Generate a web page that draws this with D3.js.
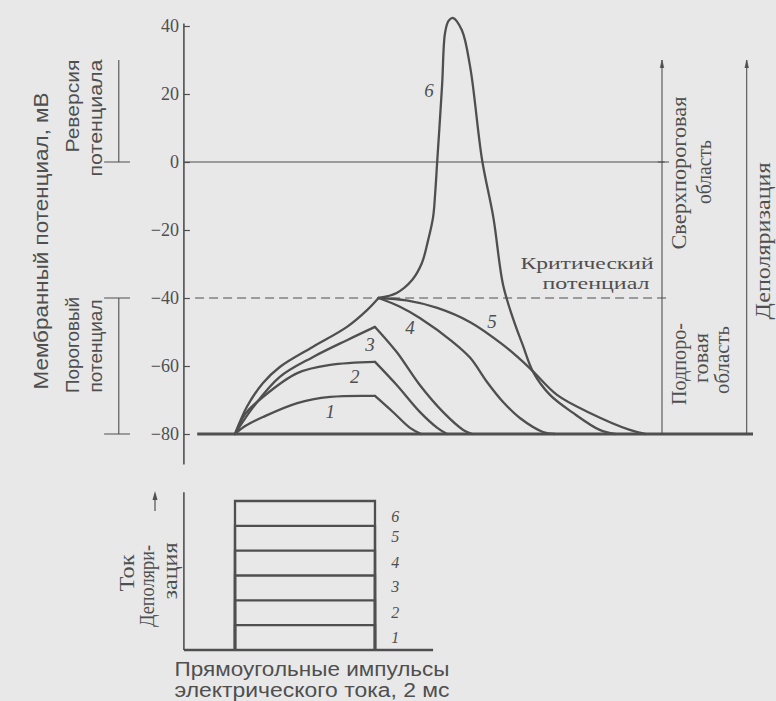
<!DOCTYPE html>
<html><head><meta charset="utf-8">
<script src="https://cdn.jsdelivr.net/npm/d3@7"></script>
<style>
html,body{margin:0;padding:0;background:#e8e8e8;}
svg{display:block;}
.serif{font-family:"Liberation Serif","DejaVu Serif",serif;}
.sans{font-family:"Liberation Sans","DejaVu Sans",sans-serif;}
</style>
</head><body>
<svg id="chart" width="776" height="701"></svg>
<script>
// ---------- data (time in ms, potential in mV) ----------
const yTicks = [40, 20, 0, -20, -40, -60, -80];
const restingPotential = -80;
const criticalPotential = -40;
const stimulusDuration = 2; // ms
const pulseLevels = [1, 2, 3, 4, 5, 6];
const pulseLabelLevels = [0.52, 1.53, 2.54, 3.54, 4.58, 5.36];

// curves 1-3: subthreshold responses (rise during pulse, decay after)
const curve1Rise = [[0,-80],[0.15,-77.6],[0.4,-75],[0.89,-70.9],[1.36,-69.1],[2.0,-68.8]];
const curve1Fall = [[2.0,-68.8],[2.26,-73.6],[2.5,-78.2],[2.66,-80]];
const curve2Rise = [[0,-80],[0.15,-74],[0.4,-69.1],[0.89,-62.1],[1.36,-59.7],[2.0,-58.8]];
const curve2Fall = [[2.0,-58.8],[2.31,-65.6],[2.64,-73.5],[2.89,-78.2],[3.03,-80]];
const curve3Rise = [[0,-80],[0.26,-72.1],[0.64,-63.2],[1.11,-57.4],[1.6,-52.4],[2.0,-48.5]];
const curve3Fall = [[2.0,-48.5],[2.31,-55.9],[2.64,-65.6],[2.97,-73.5],[3.26,-78.8],[3.39,-80]];
// curves 4-6 share the rise up to the critical potential
const commonRise = [[0,-80],[0.17,-72],[0.4,-65],[0.64,-60.3],[1.11,-54.4],[1.6,-48.5],[1.89,-43.5],[2.05,-40]];
const curve4Fall = [[2.05,-40],[2.35,-42.5],[2.64,-45.9],[3.11,-52.9],[3.36,-57.6],[3.6,-64.7],[3.83,-70.6],[4.07,-75.3],[4.4,-79.4],[4.57,-80]];
const curve5Fall = [[2.05,-40],[2.45,-40.7],[2.89,-42.9],[3.36,-47.1],[3.83,-53.8],[4.21,-60.6],[4.6,-68.5],[5.07,-73.8],[5.64,-78.8],[5.86,-80]];
const curve6Spike = [[2.05,-40],[2.31,-38.5],[2.53,-34.7],[2.67,-29.7],[2.76,-22.9],[2.83,-16.2],[2.86,-9.1],[2.89,0.6],[2.92,10],[2.96,23.2],[3.0,37.9],[3.05,41.5],[3.11,42.4],[3.24,38.8],[3.36,27.9],[3.53,0.6],[3.69,-16.2],[3.83,-36.2],[3.97,-45.9],[4.11,-53.8],[4.26,-61.8],[4.5,-68.5],[4.83,-73.8],[5.21,-78.8],[5.43,-80]];

const curveLabels = [
  {text:"1", t:1.36, v:-73.5},
  {text:"2", t:1.71, v:-63.2},
  {text:"3", t:1.93, v:-53.8},
  {text:"4", t:2.5,  v:-48.8},
  {text:"5", t:3.67, v:-46.8},
  {text:"6", t:2.77, v:21}
];

// ---------- scales ----------
const ink = "#4f4f4f";
const svg = d3.select("#chart");
svg.append("rect").attr("width",776).attr("height",701).attr("fill","#e8e8e8");

const x = d3.scaleLinear().domain([0, stimulusDuration]).range([235, 375]);
const y = d3.scaleLinear().domain([-80, 40]).range([434, 26]);
const yCur = d3.scaleLinear().domain([0, 6]).range([650, 501]);

const axisT = -0.73;

// ---------- top panel ----------
const yAxis = d3.axisLeft(y).tickValues(yTicks).tickSizeInner(-6).tickSizeOuter(0).tickPadding(5)
  .tickFormat(d => d < 0 ? "\u2212" + Math.abs(d) : String(d));
const ga = svg.append("g").attr("transform", `translate(${x(axisT)},0)`).call(yAxis);
ga.select(".domain").remove();
ga.selectAll("line").attr("stroke", ink).attr("stroke-width", 1.2);
ga.selectAll("text").attr("class","serif").attr("font-size", 18).attr("fill", ink).attr("font-family",null);
svg.append("line").attr("x1", x(axisT)).attr("x2", x(axisT)).attr("y1", y(40.7)).attr("y2", y(-89))
  .attr("stroke", ink).attr("stroke-width", 1.6);

// zero line
svg.append("line").attr("x1", x(axisT)).attr("x2", x(6.14)).attr("y1", y(0)).attr("y2", y(0))
  .attr("stroke", ink).attr("stroke-width", 1.1);
// critical potential dashed line
svg.append("line").attr("x1", x(-0.57)).attr("x2", x(6.21)).attr("y1", y(criticalPotential)).attr("y2", y(criticalPotential))
  .attr("stroke", ink).attr("stroke-width", 1.2).attr("stroke-dasharray", "9,5");

// right vertical range lines
[6.1, 7.31].forEach(t => {
  svg.append("line").attr("x1", x(t)).attr("x2", x(t)).attr("y1", y(30)).attr("y2", y(-80))
    .attr("stroke", ink).attr("stroke-width", 1.1);
  svg.append("path").attr("d", `M${x(t)-1.8},${y(30)+8} L${x(t)},${y(30)} L${x(t)+1.8},${y(30)+8}`)
    .attr("fill", ink).attr("stroke", ink).attr("stroke-width", 0.6);
});
svg.append("line").attr("x1", x(6.04)).attr("x2", x(6.2)).attr("y1", y(0)).attr("y2", y(0)).attr("stroke", ink).attr("stroke-width", 1);

// left brackets
const bx = -1.66;
svg.append("line").attr("x1", x(bx)).attr("x2", x(bx)).attr("y1", y(30)).attr("y2", y(0)).attr("stroke", ink).attr("stroke-width", 1.1);
svg.append("line").attr("x1", x(-1.87)).attr("x2", x(-1.5)).attr("y1", y(0)).attr("y2", y(0)).attr("stroke", ink).attr("stroke-width", 1);
svg.append("line").attr("x1", x(bx)).attr("x2", x(bx)).attr("y1", y(-40)).attr("y2", y(-80)).attr("stroke", ink).attr("stroke-width", 1.1);
[-40, -80].forEach(v => svg.append("line").attr("x1", x(-1.87)).attr("x2", x(-1.5)).attr("y1", y(v)).attr("y2", y(v)).attr("stroke", ink).attr("stroke-width", 1));

// resting baseline
svg.append("line").attr("x1", x(-0.54)).attr("x2", x(7.4)).attr("y1", y(restingPotential)).attr("y2", y(restingPotential))
  .attr("stroke", ink).attr("stroke-width", 3.2);

// curves
const line = d3.line().x(d => x(d[0])).y(d => y(d[1])).curve(d3.curveCatmullRom.alpha(0.5));
[curve1Rise, curve1Fall, curve2Rise, curve2Fall, curve3Rise, curve3Fall, commonRise, curve4Fall, curve5Fall, curve6Spike]
  .forEach(c => svg.append("path").attr("d", line(c)).attr("fill","none").attr("stroke", ink)
    .attr("stroke-width", 2.3).attr("stroke-linejoin","round").attr("stroke-linecap","round"));

// curve labels
svg.selectAll(".clab").data(curveLabels).enter().append("text")
  .attr("class","serif").attr("x", d => x(d.t)).attr("y", d => y(d.v))
  .attr("text-anchor","middle").attr("dominant-baseline","central")
  .attr("font-size", 19).attr("font-style","italic").attr("fill", ink).text(d => d.text);

// text helpers
function vtext(txt, cx, cy, len, size, cls) {
  const t = svg.append("text").attr("class", cls).attr("transform", `translate(${cx},${cy}) rotate(-90)`)
    .attr("text-anchor","middle").attr("dominant-baseline","central")
    .attr("font-size", size).attr("fill", ink).text(txt);
  if (len) t.attr("textLength", len).attr("lengthAdjust","spacingAndGlyphs");
  return t;
}
function htext(txt, cx, by, len, size, cls) {
  const t = svg.append("text").attr("class", cls).attr("x", cx).attr("y", by)
    .attr("text-anchor","middle").attr("font-size", size).attr("fill", ink).text(txt);
  if (len) t.attr("textLength", len).attr("lengthAdjust","spacingAndGlyphs");
  return t;
}

vtext("Мембранный потенциал, мВ", 41, 241, 297, 20, "sans");
vtext("Реверсия", 72, 106, 93, 19, "sans");
vtext("потенциала", 95, 118, 117, 19, "sans");
vtext("Пороговый", 72, 345, 96, 19, "sans");
vtext("потенциал", 95, 346, 93, 19, "sans");

vtext("Сверхпороговая", 679, 173, 153, 20, "serif");
vtext("область", 704, 172, 64, 20, "serif");
vtext("Подпоро-", 679, 364, 82, 20, "serif");
vtext("говая", 701, 358, 50, 20, "serif");
vtext("область", 722, 360, 68, 20, "serif");
vtext("Деполяризация", 763, 241, 157, 20, "serif");

htext("Критический", 587, 269, 133, 17.5, "serif");
htext("потенциал", 596, 289, 107, 17.5, "serif");

// ---------- bottom panel: rectangular current pulses ----------
svg.append("line").attr("x1", x(axisT)).attr("x2", x(axisT)).attr("y1", yCur(6.35)).attr("y2", yCur(0))
  .attr("stroke", ink).attr("stroke-width", 1.6);
svg.append("line").attr("x1", x(axisT)).attr("x2", x(2.83)).attr("y1", yCur(0)).attr("y2", yCur(0))
  .attr("stroke", ink).attr("stroke-width", 2.4);

svg.selectAll(".pulse").data(pulseLevels).enter().append("path")
  .attr("d", d => `M${x(0)},${yCur(0)} L${x(0)},${yCur(d)} L${x(stimulusDuration)},${yCur(d)} L${x(stimulusDuration)},${yCur(0)}`)
  .attr("fill","none").attr("stroke", ink).attr("stroke-width", 2.3);

svg.selectAll(".plab").data(pulseLevels).enter().append("text")
  .attr("class","serif").attr("x", x(2.29)).attr("y", (d,i) => yCur(pulseLabelLevels[i]))
  .attr("text-anchor","middle").attr("dominant-baseline","central")
  .attr("font-size", 16).attr("font-style","italic").attr("fill", ink).text(d => d);

vtext("Ток", 127, 573, 37, 20, "serif");
vtext("Деполяри-", 147, 586, 82, 20, "serif");
vtext("зация", 170, 571, 57, 20, "serif");
// arrow
svg.append("line").attr("x1", 155).attr("x2", 155).attr("y1", 511).attr("y2", 494).attr("stroke", ink).attr("stroke-width", 1.2);
svg.append("path").attr("d", "M152.5,500 L155,491 L157.5,500 Z").attr("fill", ink);

htext("Прямоугольные импульсы", 312, 676, 275, 20, "sans");
htext("электрического тока, 2 мс", 312, 697, 275, 20, "sans");
</script>
</body></html>
